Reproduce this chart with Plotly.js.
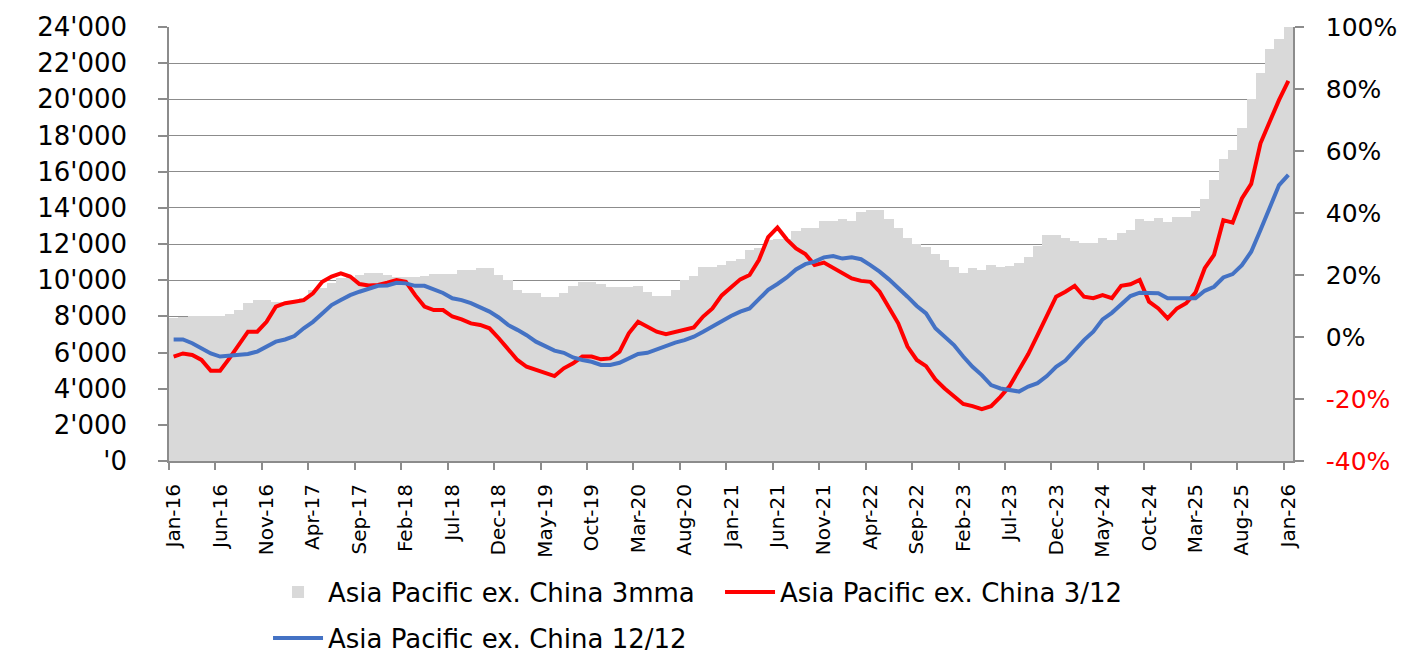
<!DOCTYPE html>
<html><head><meta charset="utf-8">
<script src="https://cdn.plot.ly/plotly-3.0.1.min.js"></script>
<style>html,body{margin:0;padding:0;background:#fff}#chart{width:1402px;height:656px}</style>
</head><body><div id="chart"></div>
<script>
// Monthly categories Jan-16 .. Jan-26
const monthNames = ['Jan','Feb','Mar','Apr','May','Jun','Jul','Aug','Sep','Oct','Nov','Dec'];
const months = [];
for (let y = 16; y <= 26; y++) {
  for (let m = 0; m < 12; m++) {
    if (y === 26 && m > 0) break;
    months.push(monthNames[m] + '-' + y);
  }
}
const tickLabels = ['Jan-16','Jun-16','Nov-16','Apr-17','Sep-17','Feb-18','Jul-18','Dec-18','May-19','Oct-19',
  'Mar-20','Aug-20','Jan-21','Jun-21','Nov-21','Apr-22','Sep-22','Feb-23','Jul-23','Dec-23',
  'May-24','Oct-24','Mar-25','Aug-25','Jan-26'];

// Asia Pacific ex. China 3mma (left axis)
const volume3mma = [
  7890,7950,8020,8020,8000,8000,8150,8350,8760,8900,
  8900,8800,8800,8850,9000,9450,9550,9820,10100,10200,
  10280,10380,10380,10280,10190,10190,10150,10230,10320,10320,
  10320,10560,10560,10650,10650,10280,10000,9450,9270,9270,
  9050,9050,9270,9680,9920,9920,9790,9600,9600,9600,
  9690,9340,9120,9120,9450,10000,10230,10740,10740,10840,
  11050,11150,11670,11760,12220,12250,12250,12740,12900,12900,
  13270,13270,13360,13270,13750,13880,13880,13360,12900,12310,
  11980,11810,11450,11110,10740,10380,10650,10560,10840,10740,
  10800,10930,11300,11890,12500,12500,12350,12180,12070,12070,
  12310,12220,12590,12770,13360,13290,13420,13230,13470,13470,
  13840,14490,15540,16680,17190,18430,20000,21470,22760,23310,
  24100];

// Asia Pacific ex. China 3/12 (% , right axis)
const growth3_12 = [
  -6.3,-5.3,-5.8,-7.4,-10.9,-10.9,-6.9,-2.6,1.7,1.7,
  4.9,9.8,10.9,11.4,11.9,14.1,17.8,19.5,20.5,19.5,
  17.1,16.6,16.8,17.5,18.4,17.8,13.5,9.8,8.7,8.7,
  6.6,5.7,4.4,3.9,2.8,-0.4,-3.7,-7.4,-9.6,-10.6,
  -11.9,-12.6,-10.1,-8.5,-6.3,-6.3,-7.2,-6.9,-4.7,1.2,
  4.9,3.3,1.7,0.9,1.7,2.6,3.1,6.6,9.2,13.4,
  16.0,18.6,20.0,24.8,32.2,35.3,31.5,28.6,26.8,23.2,
  24.0,22.4,20.5,18.9,18.1,17.8,14.6,9.2,4.4,-3.1,
  -7.4,-9.4,-13.7,-16.6,-19.2,-21.6,-22.3,-23.3,-22.3,-19.3,
  -15.8,-10.5,-5.5,0.6,7.1,13.0,14.6,16.5,13.0,12.5,
  13.5,12.5,16.5,17.0,18.4,11.4,9.2,6.0,9.2,10.9,
  14.3,22.2,26.5,37.7,36.9,44.7,49.4,62.5,69.5,76.5,
  82.6];

// Asia Pacific ex. China 12/12 (% , right axis)
const growth12_12 = [
  -0.8,-0.8,-2.0,-3.7,-5.3,-6.3,-6.1,-5.9,-5.5,-4.7,
  -3.1,-1.5,-0.8,0.3,2.8,4.9,7.6,10.3,11.9,13.5,
  14.6,15.6,16.5,16.6,17.5,17.3,16.5,16.5,15.2,14.2,
  12.5,11.9,10.9,9.6,8.2,6.3,3.9,2.3,0.6,-1.5,
  -3.1,-4.4,-5.1,-6.6,-7.4,-8.0,-9.0,-9.0,-8.3,-6.9,
  -5.5,-5.1,-4.0,-2.6,-1.8,-1.0,0.1,1.7,3.5,5.3,
  6.8,8.2,9.2,12.2,15.2,17.1,19.2,21.8,23.5,24.3,
  25.7,26.1,25.3,25.7,25.1,23.2,21.1,18.6,16.0,13.0,
  10.0,7.6,2.8,0.1,-2.6,-6.3,-9.6,-12.3,-15.5,-16.6,
  -17.1,-17.6,-16.0,-14.9,-12.6,-9.6,-7.6,-4.2,-1.0,1.7,
  5.7,7.8,10.6,13.2,14.3,14.1,14.1,12.5,12.5,12.5,
  12.5,14.9,16.2,19.2,20.3,23.2,27.5,34.5,41.5,49.0,
  52.3];

const leftTickVals = [0,2000,4000,6000,8000,10000,12000,14000,16000,18000,20000,22000,24000];
const leftTickText = ["'0","2'000","4'000","6'000","8'000","10'000","12'000","14'000","16'000","18'000","20'000","22'000","24'000"];
const rightTickVals = [-40,-20,0,20,40,60,80,100];
const rightTickText = ['-40%','-20%','0%','20%','40%','60%','80%','100%'];

const idx = months.map((_, i) => i);
const labelPos = tickLabels.map(t => months.indexOf(t));
const boundaryPos = labelPos.map(p => p - 0.5);
const rightTickTextStyled = rightTickText.map((t, i) =>
  rightTickVals[i] < 0 ? '<span style="color:#ff0000">' + t + '</span>' : t);

const grey = '#8c8c8c';

const traces = [
  {type:'bar', x: idx, y: volume3mma, name:'Asia Pacific ex. China 3mma', hovertext: months, hoverinfo:'text+y',
   textposition:'none', marker:{color:'#d9d9d9', line:{width:0}}, xaxis:'x', yaxis:'y', legend:'legend'},
  {type:'scatter', mode:'lines', x: idx, y: growth3_12, name:'Asia Pacific ex. China 3/12', hovertext: months,
   line:{color:'#ff0000', width:4}, xaxis:'x2', yaxis:'y2', legend:'legend'},
  {type:'scatter', mode:'lines', x: idx, y: growth12_12, name:'Asia Pacific ex. China 12/12', hovertext: months,
   line:{color:'#4472c4', width:4}, xaxis:'x2', yaxis:'y2', legend:'legend2'}
];

const layout = {
  width:1402, height:656,
  margin:{l:169, r:109, t:27, b:195, autoexpand:false},
  paper_bgcolor:'#ffffff', plot_bgcolor:'#ffffff',
  font:{family:'DejaVu Sans', color:'#000000'},
  bargap:0,
  showlegend:true,
  xaxis:{range:[-0.5,120.5], tickmode:'array', tickvals: boundaryPos, ticktext: boundaryPos.map(() => ''),
    ticks:'outside', ticklen:7, tickwidth:1.5, tickcolor:grey, showline:true, linecolor:grey, linewidth:1.5,
    showgrid:false, zeroline:false, showticklabels:false, fixedrange:true},
  xaxis2:{overlaying:'x', anchor:'y2', side:'bottom', range:[-0.5,120.5], tickmode:'array',
    tickvals: labelPos, ticktext: tickLabels, ticks:'', tickangle:-90, tickfont:{size:20, color:'#000'},
    showgrid:false, zeroline:false, showline:false, ticklabelstandoff:18},
  yaxis:{range:[0,24000], tickmode:'array', tickvals:leftTickVals, ticktext:leftTickText,
    ticks:'outside', ticklen:9, tickwidth:1.5, tickcolor:grey, showline:true, linecolor:grey, linewidth:1.5,
    showgrid:true, gridcolor:grey, gridwidth:1.3, zeroline:false, tickfont:{size:26, color:'#000'},
    ticklabelstandoff:26},
  yaxis2:{overlaying:'y', anchor:'x2', side:'right', range:[-40,100], tickmode:'array',
    tickvals:rightTickVals, ticktext:rightTickTextStyled, ticks:'outside', ticklen:9, tickwidth:1.5,
    tickcolor:grey, showline:true, linecolor:grey, linewidth:1.5, showgrid:false, zeroline:false,
    tickfont:{size:25, color:'#000'}, ticklabelstandoff:17},
  legend:{orientation:'h', x:0.0881, xanchor:'left', y:-0.2477, yanchor:'top',
    font:{size:26, color:'#000'}, itemwidth:50, entrywidth:387, bgcolor:'rgba(0,0,0,0)', traceorder:'normal'},
  legend2:{orientation:'h', x:0.0881, xanchor:'left', y:-0.3537, yanchor:'top',
    font:{size:26, color:'#000'}, itemwidth:50, bgcolor:'rgba(0,0,0,0)'}
};

Plotly.newPlot('chart', traces, layout, {displayModeBar:false, responsive:false});
</script>
</body></html>
